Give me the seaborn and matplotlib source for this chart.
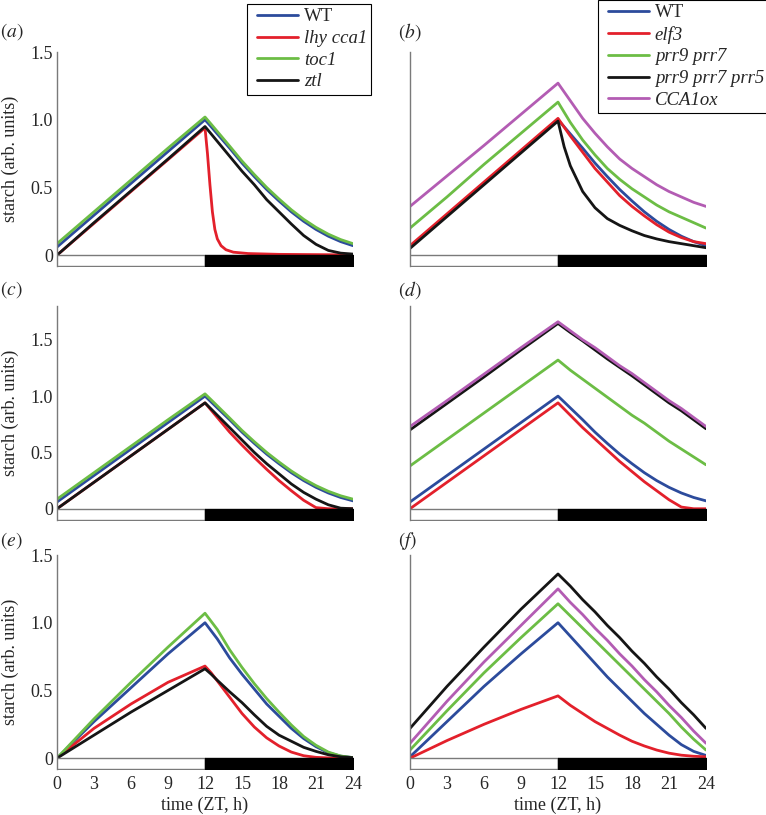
import matplotlib
matplotlib.use("Agg")
import matplotlib.pyplot as plt
from matplotlib.legend_handler import HandlerLine2D
import seaborn as sns

# time axis (ZT, h)
t = [0, 3, 6, 9, 12, 12.5, 13, 14, 15, 16, 17, 18, 19, 20, 21, 22, 23, 24]
t_lhy = [0, 12, 12.2, 12.4, 12.6, 12.8, 13, 13.3, 13.7, 14.3, 15.5, 18, 24]
light = [0, 12]
dark = [12, 24]
xticks = [0, 3, 6, 9, 12, 15, 18, 21, 24]
yticks = [0, 0.5, 1.0, 1.5]
ytick_labels = ["0", "0.5", "1.0", "1.5"]

# panel (a)
wt = [0.06, 0.295, 0.53, 0.765, 1.00, 0.948, 0.895, 0.79, 0.68, 0.58, 0.485, 0.40, 0.32, 0.25, 0.19, 0.14, 0.10, 0.07]
toc1_a = [0.085, 0.32, 0.555, 0.79, 1.02, 0.967, 0.913, 0.805, 0.695, 0.595, 0.50, 0.415, 0.335, 0.265, 0.205, 0.155, 0.115, 0.085]
ztl_a = [0.0, 0.24, 0.475, 0.71, 0.95, 0.895, 0.84, 0.73, 0.62, 0.52, 0.41, 0.32, 0.23, 0.145, 0.08, 0.035, 0.015, 0.008]
lhy_a = [0, 0.94, 0.75, 0.52, 0.32, 0.19, 0.12, 0.07, 0.04, 0.022, 0.012, 0.006, 0.002]

# panel (b)
elf3_b = [0.07, 0.305, 0.54, 0.775, 1.01, 0.945, 0.88, 0.76, 0.64, 0.54, 0.44, 0.36, 0.29, 0.225, 0.17, 0.13, 0.10, 0.085]
prr97_b = [0.20, 0.43, 0.67, 0.90, 1.13, 1.055, 0.98, 0.85, 0.74, 0.64, 0.56, 0.49, 0.43, 0.37, 0.32, 0.28, 0.24, 0.20]
prr975_b = [0.05, 0.285, 0.52, 0.755, 0.99, 0.80, 0.66, 0.47, 0.35, 0.27, 0.22, 0.18, 0.145, 0.12, 0.10, 0.085, 0.07, 0.055]
cca1ox_b = [0.36, 0.585, 0.81, 1.04, 1.27, 1.205, 1.14, 1.01, 0.90, 0.80, 0.71, 0.64, 0.58, 0.52, 0.47, 0.43, 0.39, 0.36]

# panel (c)
lhy_c = [0.0, 0.235, 0.47, 0.705, 0.94, 0.875, 0.81, 0.68, 0.565, 0.455, 0.35, 0.25, 0.16, 0.075, 0.01, 0.0, 0.0, 0.0]
ztl_c = [0.0, 0.235, 0.47, 0.705, 0.94, 0.885, 0.83, 0.72, 0.61, 0.50, 0.40, 0.31, 0.22, 0.145, 0.085, 0.035, 0.005, 0.0]

# panel (d)
elf3_d = [0.0, 0.235, 0.47, 0.705, 0.94, 0.885, 0.83, 0.72, 0.62, 0.52, 0.42, 0.33, 0.24, 0.16, 0.08, 0.015, 0.0, 0.0]
prr97_d = [0.38, 0.615, 0.85, 1.085, 1.32, 1.275, 1.23, 1.15, 1.07, 0.99, 0.91, 0.83, 0.76, 0.68, 0.60, 0.53, 0.46, 0.39]
prr975_d = [0.70, 0.935, 1.17, 1.41, 1.645, 1.605, 1.565, 1.49, 1.41, 1.33, 1.255, 1.18, 1.10, 1.02, 0.94, 0.87, 0.79, 0.71]
cca1ox_d = [0.73, 0.96, 1.195, 1.43, 1.66, 1.62, 1.58, 1.50, 1.43, 1.35, 1.27, 1.20, 1.12, 1.04, 0.96, 0.89, 0.81, 0.73]

# panel (e)
wt_e = [0.0, 0.27, 0.52, 0.77, 1.00, 0.94, 0.88, 0.74, 0.62, 0.51, 0.40, 0.31, 0.22, 0.145, 0.085, 0.04, 0.015, 0.004]
toc1_e = [0.0, 0.29, 0.56, 0.82, 1.07, 1.01, 0.95, 0.80, 0.67, 0.55, 0.44, 0.34, 0.245, 0.16, 0.095, 0.045, 0.016, 0.004]
lhy_e = [0.0, 0.22, 0.40, 0.56, 0.68, 0.63, 0.57, 0.45, 0.33, 0.23, 0.15, 0.09, 0.045, 0.018, 0.006, 0.002, 0.001, 0.0]
ztl_e = [0.0, 0.17, 0.34, 0.50, 0.66, 0.62, 0.575, 0.49, 0.41, 0.32, 0.235, 0.17, 0.125, 0.08, 0.05, 0.025, 0.01, 0.004]

# panel (f)
wt_f = [0.01, 0.27, 0.53, 0.77, 1.00, 0.95, 0.90, 0.80, 0.70, 0.60, 0.51, 0.42, 0.33, 0.25, 0.17, 0.10, 0.05, 0.02]
elf3_f = [0.0, 0.13, 0.25, 0.36, 0.46, 0.425, 0.39, 0.33, 0.27, 0.22, 0.17, 0.125, 0.09, 0.06, 0.037, 0.022, 0.014, 0.01]
prr97_f = [0.06, 0.35, 0.63, 0.89, 1.14, 1.095, 1.05, 0.96, 0.87, 0.78, 0.69, 0.60, 0.51, 0.42, 0.33, 0.23, 0.14, 0.06]
prr975_f = [0.22, 0.53, 0.82, 1.10, 1.36, 1.315, 1.27, 1.17, 1.08, 0.98, 0.89, 0.79, 0.70, 0.60, 0.51, 0.41, 0.32, 0.22]
cca1ox_f = [0.11, 0.42, 0.71, 0.98, 1.25, 1.20, 1.15, 1.06, 0.96, 0.87, 0.77, 0.68, 0.58, 0.49, 0.39, 0.30, 0.20, 0.11]

BLUE = "#2c4b9c"
RED = "#e3202b"
GREEN = "#6cbd45"
BLACK = "#151515"
MAGENTA = "#b35cb3"

sns.set_style("white")
plt.rcParams["font.family"] = ["Liberation Serif", "DejaVu Serif"]
plt.rcParams["font.size"] = 13
plt.rcParams["mathtext.fontset"] = "stix"

W, H = 766, 815
fig = plt.figure(figsize=(W / 100, H / 100), dpi=100)

# axes boxes in pixels: left, top, width, height
cols = [57, 410]
rows = [52, 306, 555]
aw, ah = 296, 214
ylims = [(-0.08, 1.5), (-0.1, 1.8), (-0.08, 1.5)]


def make_ax(r, c):
    ax = fig.add_axes([cols[c] / W, 1 - (rows[r] + ah) / H, aw / W, ah / H])
    return ax


def draw(ax, series, r, c):
    ylo, yhi = ylims[r]
    for x, y, col, lab in series:
        sns.lineplot(x=x, y=y, ax=ax, color=col, lw=2.0, label=lab,
                     legend=False, sort=False)
    ax.fill_between(light, ylo, 0, facecolor="white", edgecolor="#7a7a7a", lw=1.0, zorder=3)
    ax.fill_between(dark, ylo, 0, facecolor="black", edgecolor="black", lw=1.0, zorder=3)
    ax.set_xlim(0, 24)
    ax.set_ylim(ylo, yhi)
    for s in ["top", "right", "bottom"]:
        ax.spines[s].set_visible(False)
    ax.spines["left"].set_color("#7a7a7a")
    ax.spines["left"].set_linewidth(1.0)
    ax.set_yticks(yticks)
    ax.tick_params(axis="y", direction="in", length=3, width=0.8, color="#7a7a7a", pad=3)
    ax.set_xticks(xticks)
    ax.tick_params(axis="x", length=0, pad=5)
    if c == 0:
        ax.set_yticklabels(ytick_labels)
        ax.set_ylabel("starch (arb. units)")
        ax.yaxis.set_label_coords(-0.13, 0.5)
    else:
        ax.set_yticklabels([])
        ax.set_ylabel("")
    if r == 2:
        ax.set_xticklabels([str(v) for v in xticks])
        ax.set_xlabel("time (ZT, h)", labelpad=3)
    else:
        ax.set_xticklabels([])
        ax.set_xlabel("")
    return ax


panels = {
    (0, 0): [(t, wt, BLUE, "WT"), (t_lhy, lhy_a, RED, "lhy cca1"),
             (t, toc1_a, GREEN, "toc1"), (t, ztl_a, BLACK, "ztl")],
    (0, 1): [(t, wt, BLUE, "WT"), (t, elf3_b, RED, "elf3"), (t, prr97_b, GREEN, "prr9 prr7"),
             (t, prr975_b, BLACK, "prr9 prr7 prr5"), (t, cca1ox_b, MAGENTA, "CCA1ox")],
    (1, 0): [(t, wt, BLUE, "WT"), (t, lhy_c, RED, "lhy cca1"),
             (t, toc1_a, GREEN, "toc1"), (t, ztl_c, BLACK, "ztl")],
    (1, 1): [(t, wt, BLUE, "WT"), (t, elf3_d, RED, "elf3"), (t, prr97_d, GREEN, "prr9 prr7"),
             (t, prr975_d, BLACK, "prr9 prr7 prr5"), (t, cca1ox_d, MAGENTA, "CCA1ox")],
    (2, 0): [(t, wt_e, BLUE, "WT"), (t, lhy_e, RED, "lhy cca1"),
             (t, toc1_e, GREEN, "toc1"), (t, ztl_e, BLACK, "ztl")],
    (2, 1): [(t, wt_f, BLUE, "WT"), (t, elf3_f, RED, "elf3"), (t, prr97_f, GREEN, "prr9 prr7"),
             (t, prr975_f, BLACK, "prr9 prr7 prr5"), (t, cca1ox_f, MAGENTA, "CCA1ox")],
}

axes = {}
for (r, c), series in panels.items():
    axes[(r, c)] = draw(make_ax(r, c), series, r, c)

# legends at the top of the figure
for (c, left, top) in [(0, 247, 4), (1, 598, 0)]:
    ax = axes[(0, c)]
    handles = ax.lines[:len(panels[(0, c)])]
    labels = [s[3] for s in panels[(0, c)]]
    leg = ax.legend(handles, labels, loc="upper left",
                    bbox_to_anchor=(left / W, 1 - top / H), bbox_transform=fig.transFigure,
                    borderaxespad=0, frameon=True, fancybox=False, framealpha=1,
                    edgecolor="black", fontsize=13.5, handlelength=2.5, handletextpad=0.3,
                    labelspacing=0.24, borderpad=0.23,
                    handler_map={h: HandlerLine2D(xpad=0.3) for h in handles})
    leg.get_frame().set_linewidth(0.8)
    for txt in leg.get_texts():
        if txt.get_text() != "WT":
            txt.set_fontstyle("italic")
    for ln in leg.get_lines():
        ln.set_linewidth(2.0)

# panel letters
for lab, x, y in [("a", 0, 32), ("b", 398, 32), ("c", 0, 290), ("d", 398, 290),
                  ("e", 0, 541), ("f", 398, 541)]:
    fig.text(x / W, 1 - y / H, r"$(%s)$" % lab, fontsize=14, va="center", ha="left")

fig.savefig("out.png", dpi=100)
